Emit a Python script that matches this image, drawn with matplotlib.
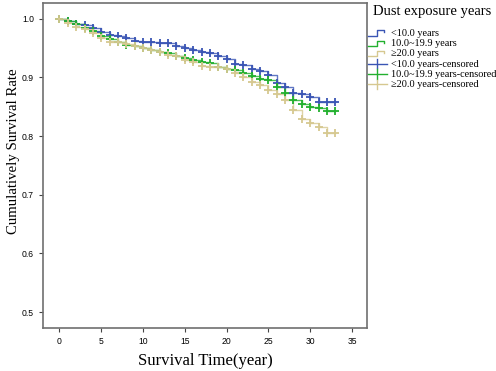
import matplotlib
matplotlib.use("Agg")
import matplotlib.pyplot as plt
from matplotlib.lines import Line2D
from matplotlib.legend_handler import HandlerBase

# survival estimates, one value per year (0..33)
years = list(range(34))
surv_lt10 = [1.000, 0.996, 0.992, 0.989, 0.984, 0.978, 0.972, 0.970, 0.967, 0.963,
             0.961, 0.960, 0.959, 0.958, 0.954, 0.950, 0.947, 0.944, 0.941, 0.937,
             0.931, 0.923, 0.921, 0.915, 0.911, 0.904, 0.891, 0.884, 0.874, 0.871,
             0.867, 0.859, 0.859, 0.859]
surv_10_20 = [1.000, 0.996, 0.991, 0.985, 0.979, 0.971, 0.965, 0.960, 0.956, 0.953,
              0.950, 0.947, 0.944, 0.941, 0.937, 0.933, 0.930, 0.927, 0.925, 0.918,
              0.915, 0.912, 0.908, 0.902, 0.898, 0.895, 0.884, 0.874, 0.862, 0.855,
              0.850, 0.848, 0.843, 0.843]
surv_ge20 = [1.000, 0.993, 0.986, 0.982, 0.976, 0.967, 0.961, 0.960, 0.957, 0.953,
             0.950, 0.947, 0.943, 0.939, 0.936, 0.930, 0.927, 0.920, 0.918, 0.918,
             0.914, 0.908, 0.900, 0.893, 0.887, 0.879, 0.871, 0.862, 0.845, 0.830,
             0.822, 0.815, 0.805, 0.805]

groups = ["<10.0 years", "10.0~19.9 years", "\u226520.0 years"]
series = [surv_lt10, surv_10_20, surv_ge20]
colors = ["#3a55b4", "#22b02e", "#d6c890"]

x_ticks = [0, 5, 10, 15, 20, 25, 30, 35]
y_ticks = [0.5, 0.6, 0.7, 0.8, 0.9, 1.0]


class StepHandler(HandlerBase):
    def create_artists(self, legend, orig, xd, yd, w, h, fontsize, trans):
        xs = [xd, xd + 0.5 * w, xd + 0.5 * w, xd + 0.85 * w, xd + 0.85 * w]
        ys = [yd + 0.1 * h, yd + 0.1 * h, yd + 0.9 * h, yd + 0.9 * h, yd + 0.6 * h]
        return [Line2D(xs, ys, color=orig.get_color(), lw=1.0, transform=trans)]


class CensorHandler(HandlerBase):
    def create_artists(self, legend, orig, xd, yd, w, h, fontsize, trans):
        c = orig.get_color()
        hl = Line2D([xd, xd + w], [yd + 0.5 * h] * 2, color=c, lw=1.0, transform=trans)
        vl = Line2D([xd + 0.5 * w] * 2, [yd - 0.2 * h, yd + 1.2 * h], color=c, lw=1.0,
                    transform=trans)
        return [hl, vl]


fig = plt.figure(figsize=(4.96, 3.71), dpi=100)
ax = fig.add_axes([0.087, 0.116, 0.653, 0.876])

for vals, c in zip(series, colors):
    ax.step(years, vals, where="post", color=c, lw=1.0, alpha=0.8)
for vals, c in zip(series, colors):
    ax.plot(years, vals, ls="none", marker="+", ms=6, mew=1.3, color=c)

ax.set_xlim(-1.95, 36.8)
ax.set_ylim(0.473, 1.027)
ax.set_xticks(x_ticks)
ax.set_yticks(y_ticks)
ax.set_yticklabels([f"{v:.1f}" for v in y_ticks])
ax.tick_params(direction="out", length=3, width=0.8, labelsize=6.2, color="#444444")
for lab in ax.get_xticklabels() + ax.get_yticklabels():
    lab.set_family("Liberation Sans")
for s in ax.spines.values():
    s.set_color("#707070")
    s.set_linewidth(1.2)

ax.set_xlabel("Survival Time(year)", family="Liberation Serif", fontsize=12, labelpad=5)
ax.set_ylabel("Cumulatively Survival Rate", family="Liberation Serif", fontsize=10.6)
ax.yaxis.set_label_coords(-0.07, 0.545)

step_handles = [Line2D([], [], color=c) for c in colors]
cens_handles = [Line2D([], [], color=c) for c in colors]
labels = groups + [g + "-censored" for g in groups]
hmap = {h: StepHandler() for h in step_handles}
hmap.update({h: CensorHandler() for h in cens_handles})
leg = fig.legend(step_handles + cens_handles, labels, handler_map=hmap,
                 loc="upper left", bbox_to_anchor=(0.742, 0.922), frameon=False,
                 prop={"family": "Liberation Serif", "size": 7.4},
                 handlelength=1.8, handleheight=0.6, handletextpad=0.45,
                 labelspacing=0.12, borderaxespad=0, borderpad=0)
fig.text(0.752, 0.968, "Dust exposure years", family="Liberation Serif",
         fontsize=10.5, va="center", ha="left")

fig.savefig("out.png", dpi=100)
